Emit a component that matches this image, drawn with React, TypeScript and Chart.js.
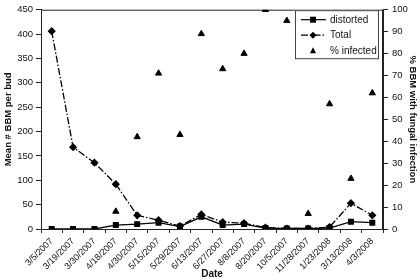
import React, { useEffect, useRef } from 'react';
import { Chart, registerables } from 'chart.js';
Chart.register(...registerables);

const dates = ['3/5/2007', '3/19/2007', '3/30/2007', '4/18/2007', '4/30/2007', '5/15/2007', '5/29/2007', '6/13/2007', '6/27/2007', '8/8/2007', '8/20/2007', '10/5/2007', '11/28/2007', '1/23/2008', '3/13/2008', '4/3/2008'];
const distorted = [0, 0, 0, 8, 10, 13, 5, 25, 8, 10, 2, 1, 1, 2, 15, 13];
const total = [406, 168, 136, 92, 28, 18, 6, 30, 14, 12, 3, 1, 1, 4, 53, 28];
const infected = [null, null, null, 8, 42, 71, 43, 89, 73, 80, 100, 95, 7, 57, 23, 62];
const seriesNames = ['distorted', 'Total', '% infected'];

const FONT = "'Liberation Sans', Arial, sans-serif";

export default function App() {
  const ref = useRef<HTMLCanvasElement>(null);
  useEffect(() => {
    document.body.style.margin = '0';
    const frame = {
      id: 'frame',
      beforeDatasetsDraw(chart: any) {
        const { ctx, chartArea: a } = chart;
        ctx.save();
        ctx.strokeStyle = '#222';
        ctx.lineWidth = 1;
        ctx.strokeRect(a.left + 0.5, a.top + 0.5, a.right - a.left - 1, a.bottom - a.top);
        ctx.restore();
      },
    };
    const boxLegend = {
      id: 'boxLegend',
      afterDraw(chart: any) {
        const { ctx, chartArea: a } = chart;
        const w = 83, h = 48;
        const x0 = a.right - 5 - w, y0 = a.top + 0.5;
        ctx.save();
        ctx.fillStyle = '#fff';
        ctx.fillRect(x0, y0, w, h);
        ctx.strokeStyle = '#444';
        ctx.lineWidth = 1;
        ctx.strokeRect(x0 + 0.5, y0 + 0.5, w, h);
        ctx.font = `10px ${FONT}`;
        ctx.textBaseline = 'middle';
        chart.data.datasets.forEach((ds: any, i: number) => {
          const y = y0 + 9.5 + i * 15.5;
          const lx0 = x0 + 6, lx1 = x0 + 31, mx = x0 + 18;
          ctx.strokeStyle = '#000';
          ctx.fillStyle = '#000';
          if (ds.showLine !== false) {
            ctx.lineWidth = 1.2;
            ctx.setLineDash(ds.borderDash || []);
            ctx.beginPath();
            ctx.moveTo(lx0, y);
            ctx.lineTo(lx1, y);
            ctx.stroke();
            ctx.setLineDash([]);
          }
          ctx.beginPath();
          if (ds.pointStyle === 'rect') {
            ctx.rect(mx - 3, y - 3, 6, 6);
          } else if (ds.pointStyle === 'rectRot') {
            ctx.moveTo(mx, y - 3.5); ctx.lineTo(mx + 3.5, y); ctx.lineTo(mx, y + 3.5); ctx.lineTo(mx - 3.5, y); ctx.closePath();
          } else {
            ctx.moveTo(mx, y - 3.5); ctx.lineTo(mx + 3, y + 2.5); ctx.lineTo(mx - 3, y + 2.5); ctx.closePath();
          }
          ctx.fill();
          ctx.fillStyle = '#111';
          ctx.fillText(seriesNames[i], x0 + 35, y + 0.5);
        });
        ctx.restore();
      },
    };
    const chart = new Chart(ref.current as HTMLCanvasElement, {
      type: 'line',
      data: {
        labels: dates,
        datasets: [
          {
            label: seriesNames[0], data: distorted, yAxisID: 'y', borderColor: '#000', backgroundColor: '#000',
            borderWidth: 1.3, pointStyle: 'rect', pointRadius: 3.3, pointBackgroundColor: '#000', pointBorderColor: '#000',
          },
          {
            label: seriesNames[1], data: total, yAxisID: 'y', borderColor: '#000', backgroundColor: '#000',
            borderWidth: 1.3, borderDash: [7, 2, 1.5, 2], pointStyle: 'rectRot', pointRadius: 3.2,
            pointBackgroundColor: '#000', pointBorderColor: '#000',
          },
          {
            label: seriesNames[2], data: infected, yAxisID: 'y1', showLine: false, borderColor: '#000', backgroundColor: '#000',
            pointStyle: 'triangle', pointRadius: 3.6, pointBackgroundColor: '#000', pointBorderColor: '#000',
          },
        ] as any,
      },
      plugins: [frame, boxLegend],
      options: {
        animation: false,
        responsive: true,
        maintainAspectRatio: false,
        layout: { padding: { top: 1, left: 0, right: 0, bottom: 0 } },
        plugins: { legend: { display: false }, tooltip: { enabled: false } },
        scales: {
          x: {
            offset: true,
            grid: { display: true, drawOnChartArea: false, offset: true, tickLength: 4, color: '#222' },
            border: { display: true, color: '#222' },
            ticks: { minRotation: 45, maxRotation: 45, color: '#111', font: { family: FONT, size: 9 }, padding: 3, autoSkip: false },
            title: { display: true, text: 'Date', color: '#111', font: { family: FONT, size: 10, weight: 'bold' }, padding: { top: 0, bottom: 0 } },
            afterFit: (s: any) => { s.height = 51; },
          },
          y: {
            position: 'left', min: 0, max: 450,
            grid: { display: true, drawOnChartArea: false, tickLength: 5, color: '#222' },
            border: { display: true, color: '#222' },
            ticks: { stepSize: 50, color: '#111', font: { family: FONT, size: 9.5 }, padding: 3 },
            title: { display: true, text: 'Mean # BBM per bud', color: '#111', font: { family: FONT, size: 9.5, weight: 'bold' }, padding: { top: 3, bottom: 2 } },
            afterFit: (s: any) => { s.width = 41; },
          },
          y1: {
            position: 'right', min: 0, max: 100,
            grid: { display: true, drawOnChartArea: false, tickLength: 5, color: '#222' },
            border: { display: true, color: '#222' },
            ticks: { stepSize: 10, color: '#111', font: { family: FONT, size: 9.5 }, padding: 4 },
            title: { display: true, text: '% BBM with fungal infection', color: '#111', font: { family: FONT, size: 9.5, weight: 'bold' }, padding: { top: 2, bottom: 3 } },
            afterFit: (s: any) => { s.width = 37; },
          },
        },
      } as any,
    });
    return () => chart.destroy();
  }, []);
  return (
    <div style={{ width: 420, height: 280, position: 'relative' }}>
      <canvas ref={ref} />
    </div>
  );
}
